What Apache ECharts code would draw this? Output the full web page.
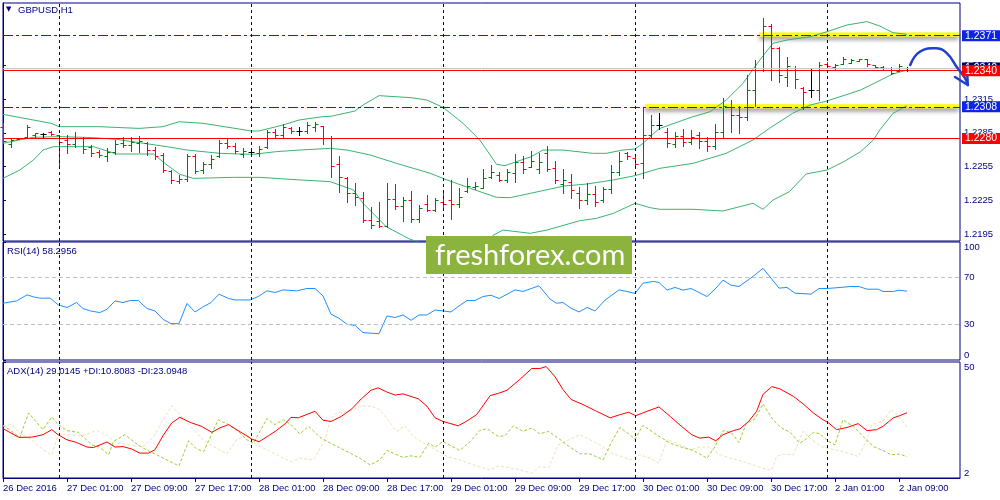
<!DOCTYPE html>
<html>
<head>
<meta charset="utf-8">
<script src="https://cdn.jsdelivr.net/npm/echarts@6/dist/echarts.min.js"></script>
<style>html,body{margin:0;padding:0;background:#fff}#c{width:1000px;height:500px}</style>
</head>
<body>
<div id="c"></div>
<script>
// ---------- DATA ----------
var timeLabels = ['26 Dec 2016','27 Dec 01:00','27 Dec 09:00','27 Dec 17:00','28 Dec 01:00','28 Dec 09:00','28 Dec 17:00','29 Dec 01:00','29 Dec 09:00','29 Dec 17:00','30 Dec 01:00','30 Dec 09:00','30 Dec 17:00','2 Jan 01:00','2 Jan 09:00'];
var timeLabelIdx = [0,8,16,24,32,40,48,56,64,72,80,88,96,104,112];
var daySeparators = [7,31,55,79,103];
var priceTicks = [1.2195,1.2225,1.2255,1.2285,1.2315,1.2345];

var opens = [1.22900,1.22750,1.22795,1.22810,1.22830,1.22835,1.22860,1.22830,1.22790,1.22750,
1.22800,1.22720,1.22680,1.22640,1.22680,1.22760,1.22740,1.22760,1.22760,1.22700,
1.22650,1.22510,1.22420,1.22440,1.22640,1.22520,1.22570,1.22640,1.22760,1.22730,
1.22660,1.22680,1.22670,1.22720,1.22860,1.22830,1.22890,1.22870,1.22870,1.22900,
1.22910,1.22800,1.22570,1.22450,1.22320,1.22270,1.22080,1.22070,1.22020,1.22260,
1.22200,1.22250,1.22090,1.22220,1.22170,1.22240,1.22250,1.22220,1.22330,1.22370,
1.22360,1.22455,1.22480,1.22430,1.22490,1.22590,1.22550,1.22530,1.22670,1.22540,
1.22400,1.22410,1.22320,1.22250,1.22310,1.22250,1.22350,1.22500,1.22670,1.22630,
1.22580,1.22830,1.22920,1.22860,1.22750,1.22820,1.22770,1.22830,1.22780,1.22730,
1.22860,1.23080,1.23010,1.22990,1.23230,1.23420,1.23800,1.23600,1.23340,1.23420,
1.23250,1.23230,1.23230,1.23460,1.23430,1.23460,1.23470,1.23490,1.23500,1.23450,
1.23435,1.23420,1.23400,1.23425];
var highs = [1.22934,1.22801,1.22807,1.22919,1.22851,1.22851,1.22869,1.22830,1.22830,1.22854,
1.22816,1.22742,1.22697,1.22712,1.22786,1.22816,1.22816,1.22821,1.22771,1.22727,
1.22668,1.22520,1.22476,1.22662,1.22662,1.22594,1.22653,1.22786,1.22801,1.22756,
1.22712,1.22712,1.22733,1.22875,1.22881,1.22928,1.22904,1.22898,1.22948,1.22948,
1.22910,1.22821,1.22647,1.22455,1.22402,1.22328,1.22189,1.22239,1.22408,1.22396,
1.22284,1.22334,1.22210,1.22299,1.22269,1.22313,1.22432,1.22358,1.22452,1.22417,
1.22529,1.22564,1.22505,1.22526,1.22662,1.22644,1.22691,1.22668,1.22736,1.22600,
1.22529,1.22482,1.22367,1.22408,1.22378,1.22372,1.22564,1.22683,1.22683,1.22659,
1.23081,1.23008,1.23022,1.22889,1.22860,1.22883,1.22875,1.22860,1.22816,1.22928,
1.23155,1.23140,1.23087,1.23362,1.23495,1.23864,1.23814,1.23613,1.23524,1.23442,
1.23253,1.23415,1.23474,1.23474,1.23457,1.23524,1.23501,1.23504,1.23501,1.23451,
1.23445,1.23436,1.23457,1.23436];
var lows = [1.22756,1.22727,1.22792,1.22801,1.22816,1.22816,1.22830,1.22564,1.22674,1.22727,
1.22668,1.22647,1.22632,1.22603,1.22662,1.22727,1.22691,1.22683,1.22653,1.22615,
1.22499,1.22402,1.22402,1.22426,1.22491,1.22491,1.22535,1.22638,1.22712,1.22668,
1.22632,1.22653,1.22644,1.22718,1.22810,1.22816,1.22851,1.22830,1.22845,1.22869,
1.22748,1.22461,1.22328,1.22234,1.22210,1.22056,1.22003,1.22018,1.22012,1.22172,
1.22068,1.22056,1.22062,1.22160,1.22160,1.22195,1.22083,1.22195,1.22328,1.22349,
1.22358,1.22452,1.22423,1.22417,1.22417,1.22496,1.22550,1.22496,1.22514,1.22402,
1.22313,1.22275,1.22186,1.22219,1.22204,1.22239,1.22319,1.22476,1.22618,1.22550,
1.22446,1.22807,1.22881,1.22727,1.22727,1.22736,1.22748,1.22712,1.22691,1.22709,
1.22810,1.22860,1.22845,1.22963,1.23087,1.23397,1.23318,1.23303,1.23265,1.23250,
1.23058,1.23170,1.23140,1.23421,1.23415,1.23457,1.23465,1.23486,1.23445,1.23421,
1.23412,1.23371,1.23400,1.23400];
var closes = [1.22780,1.22790,1.22805,1.22900,1.22845,1.22835,1.22840,1.22770,1.22750,1.22800,
1.22710,1.22670,1.22650,1.22680,1.22750,1.22740,1.22770,1.22780,1.22700,1.22640,
1.22520,1.22430,1.22440,1.22640,1.22510,1.22570,1.22620,1.22760,1.22730,1.22690,
1.22690,1.22680,1.22710,1.22860,1.22830,1.22900,1.22870,1.22870,1.22920,1.22930,
1.22800,1.22560,1.22460,1.22320,1.22280,1.22080,1.22030,1.22020,1.22260,1.22200,
1.22250,1.22090,1.22180,1.22170,1.22250,1.22220,1.22220,1.22280,1.22380,1.22375,
1.22450,1.22500,1.22430,1.22500,1.22590,1.22530,1.22600,1.22590,1.22530,1.22430,
1.22430,1.22340,1.22250,1.22310,1.22240,1.22350,1.22500,1.22600,1.22640,1.22570,
1.22830,1.22920,1.22920,1.22760,1.22820,1.22770,1.22810,1.22780,1.22730,1.22860,
1.23090,1.23010,1.22990,1.23230,1.23410,1.23800,1.23600,1.23360,1.23440,1.23330,
1.23210,1.23230,1.23450,1.23440,1.23450,1.23500,1.23495,1.23500,1.23460,1.23430,
1.23420,1.23380,1.23440,1.23425];

var bbUpper = [[0,1.23013],[2,1.22987],[6,1.22934],[7,1.22904],[12,1.22904],[17,1.22889],[20,1.22904],[22,1.22948],[25,1.22934],[29,1.22889],[31,1.22866],[32,1.22866],[35,1.22919],[37,1.22963],[40,1.22993],[41,1.22996],[44,1.23043],[45,1.23096],[47,1.23179],[51,1.23161],[53,1.23140],[55,1.23075],[57.5,1.22934],[59.6,1.22786],[61.7,1.22570],[62.75,1.22559],[64.2,1.22594],[66,1.22638],[67.5,1.22697],[70,1.22697],[73.7,1.22668],[75.4,1.22668],[77.5,1.22697],[79,1.22706],[80,1.22756],[82,1.22886],[86,1.22987],[88.4,1.23037],[90.4,1.23140],[92.5,1.23288],[94.6,1.23495],[96.25,1.23643],[98,1.23672],[101,1.23702],[103,1.23746],[105.5,1.23805],[108,1.23835],[109.6,1.23796],[111.25,1.23737],[113,1.23722]];
var bbMiddle = [[0,1.22756],[2,1.22786],[3.8,1.22810],[7,1.22816],[11.3,1.22807],[14.2,1.22792],[17.1,1.22762],[20.5,1.22727],[23,1.22697],[27.1,1.22668],[29.6,1.22662],[31.3,1.22659],[34.2,1.22683],[37.1,1.22697],[40.9,1.22712],[43,1.22697],[45.9,1.22653],[49.2,1.22579],[53.4,1.22491],[55.5,1.22432],[58.4,1.22358],[61.7,1.22278],[63.4,1.22275],[65.9,1.22313],[70.1,1.22378],[73,1.22396],[76.3,1.22432],[79,1.22470],[82.1,1.22535],[86.25,1.22579],[90.4,1.22668],[93.75,1.22786],[95.8,1.22889],[98.7,1.23022],[100.9,1.23096],[103,1.23132],[107.2,1.23229],[111.25,1.23371],[113,1.23406]];
var bbLower = [[0,1.22446],[2.1,1.22520],[3.8,1.22609],[5,1.22697],[6.3,1.22727],[11.3,1.22727],[14.2,1.22662],[18.8,1.22662],[20.5,1.22564],[22.1,1.22482],[23.8,1.22446],[28.8,1.22455],[32.1,1.22455],[37.1,1.22432],[40.9,1.22417],[43.8,1.22343],[45,1.22225],[46.25,1.22136],[47.9,1.22018],[50.8,1.21909],[54,1.21830],[57,1.21810],[60,1.21850],[61.25,1.21941],[62.5,1.21988],[65.9,1.21959],[68,1.21988],[72.1,1.22071],[74.2,1.22092],[76.3,1.22136],[79,1.22225],[80.9,1.22186],[82.1,1.22172],[86.25,1.22172],[90,1.22157],[93.75,1.22225],[95,1.22172],[96.25,1.22254],[98.3,1.22328],[100.4,1.22485],[103,1.22520],[105.1,1.22594],[107.2,1.22683],[108.8,1.22786],[109.6,1.22875],[111.25,1.23022],[113,1.23090]];

var rsiValues = [[0,48.1],[1.7,50.1],[3,55.2],[3.8,53.5],[4.6,52.4],[5.9,52.4],[6.9,46.7],[8,44.5],[9.2,48.7],[10,43.6],[10.9,41.6],[12.1,40.2],[13,43],[14,50.1],[15,48.7],[15.9,50.4],[16.9,50.4],[18,43.6],[19,41.6],[20,34.5],[21,30.8],[22,30.8],[23,47.9],[24,40.7],[25,45],[26,48.7],[27,55.8],[28.2,52.1],[29,50.9],[30.9,50.9],[31.9,53.8],[33,58.6],[34,57.2],[35,59.4],[36.7,58.6],[38,60.6],[39,60.6],[40,54.3],[41,38.8],[42,35.4],[43,30.2],[44,29.4],[45,23.2],[47,22.3],[48,37.3],[49,36],[50,38.2],[51,33.6],[52,38.2],[53,38.2],[54,42.4],[55,41.6],[56,40.7],[57,45.8],[58,50.4],[59,50.4],[60,53.8],[61,54.9],[62,52.1],[64,59.4],[65,58.1],[67,62.9],[68.4,51.5],[69.2,48.1],[70,48.7],[71,43.9],[72,40.7],[73,44.5],[74,41.6],[75.25,50.7],[77,59.4],[78,58.1],[79,56.4],[80,65.1],[81.3,66.6],[82,65.7],[83,59.2],[84,61.5],[85,59.2],[86,60.6],[87,57.2],[88,53.8],[89,60],[90,67.7],[91,63.4],[92,62.3],[93,67.1],[94,72.2],[95,77.7],[96,69.4],[97,60.9],[98,61.5],[99,56.6],[101,55.8],[102,60.6],[103,60.6],[104,61.1],[106,62.3],[107,62.3],[108,60],[109.4,60],[110,58.1],[111.3,58.1],[112,59.2],[113,58.3]];
var rsiLevels = [70,30];

var adxLine = [[0,22.4],[2,18.8],[3.6,18.9],[5,19.9],[6.1,22],[6.9,19.9],[8,17.8],[9.2,16.7],[10.5,14.8],[11.3,14.6],[13,16.9],[14,14.8],[15,15],[16.1,14],[17.1,12.3],[18.2,12.3],[19,13.7],[20,19.5],[21.1,24.8],[22.1,27.1],[23.4,25],[24.8,23.4],[26.1,20.9],[27.1,22.7],[28.2,24.1],[29.2,22],[30.25,19.9],[31.1,18.1],[32,17],[33.2,19.5],[34.2,21.7],[35.25,24.4],[36,27.1],[36.9,26.9],[39,29.6],[40,25.9],[41,25.4],[42.3,27.5],[43.6,30.6],[44.8,34.8],[46,38.3],[46.9,39.3],[47.9,37.7],[49,36.3],[50,36.8],[51.9,34.8],[53,31.7],[54,26.9],[55,25.4],[56.9,23.6],[57.9,25.4],[59.2,28.2],[60.9,36.1],[61.9,37],[63,38.3],[64.6,42.8],[66.1,47.3],[67.1,47.3],[67.9,48.1],[69,43.9],[70,38.6],[71,34.5],[72.5,32.4],[74.2,29.6],[75.9,26.9],[77.1,28.2],[78.2,29.2],[79.1,27.8],[80.5,29.6],[82,31.4],[83.4,27.5],[84.8,23.4],[86.1,19.9],[87.1,18.5],[88.2,18.9],[89.1,17.4],[90,19.9],[91.3,21.6],[92.1,22.3],[93.2,25.4],[94.2,29.6],[95,36.6],[96.1,39.8],[97.1,38.9],[98.8,35.8],[100,32.7],[101.3,28.9],[102.5,26.1],[103.2,24.8],[104.2,22],[105.5,22.9],[106.9,24.5],[108,21.6],[109.2,22],[110,23.4],[111.3,26.9],[112.1,27.8],[113,29.0]];
var plusDI = [[0,23.8],[1.1,21.3],[2.1,18.8],[3.2,28.9],[5,22],[6.1,27.3],[6.9,24.1],[8,21.6],[9.4,20.9],[11.1,15.7],[12.1,14.8],[13.2,11.6],[13.8,17.1],[15.25,19.9],[16.3,17.1],[17.5,14.4],[19.2,11.6],[20.7,9.1],[22,7],[23.2,17.4],[24.2,14],[25.1,13],[26.9,26.1],[28.2,24.1],[29.4,21.3],[30.5,17.8],[31.3,16.4],[33,26.6],[34,24.1],[35,26.1],[36,24.1],[37.1,20.2],[38.2,23.4],[39.6,18.9],[40.9,16.4],[43,13],[44.6,10.2],[45.9,7.4],[47.1,9.5],[48,13.4],[49,12],[50,10.5],[51,11.2],[52.1,10.5],[53.2,16.4],[54,14.8],[55,17.1],[56,15.3],[57.1,13.4],[58.4,17.1],[59.6,21.7],[60.5,22.4],[61.9,19.2],[62.75,19.5],[63.8,23.6],[65,21.3],[66.1,22.7],[67.1,20.3],[68.2,21.3],[69.4,18.5],[70.5,15.7],[72.1,12],[73.4,12],[75,9.5],[76.1,17.1],[77.1,22.9],[78.2,20.3],[79,18.1],[80,23.8],[81.7,19.9],[83.4,16.4],[84.8,14.8],[86.3,13.4],[88,10.2],[89,15],[90,21.6],[91,20.9],[92,16.7],[92.9,24.5],[94,26.4],[95,32.7],[96.25,26.1],[97.3,22.7],[98.4,20.9],[99.6,16.4],[100.25,17.8],[101.3,20.9],[102.1,20.3],[103.2,17.1],[104,15.7],[105,26.1],[106.3,23.4],[107.5,19.2],[108.8,15],[110,13.4],[111,11.6],[112.1,11.9],[113,10.8]];
var minusDI = [[0,23.4],[1.1,24.1],[2.1,20.6],[3.6,17.8],[5,13.7],[6.1,11.6],[6.9,19.9],[8.4,19.9],[10,19.5],[11.7,21.7],[13,19.6],[14.2,16.4],[15.9,15.7],[17.5,15],[18.8,18.9],[20,26.1],[21.1,32],[22.1,28.2],[23.6,22.7],[25,17.8],[26.3,15],[28,12],[29.2,17.8],[30.5,19.9],[31.7,15.7],[33.4,13],[35,10.2],[36,8.8],[37.1,10.2],[38.8,9.5],[40.25,17.8],[40.9,26.1],[41.7,28.9],[43.4,29.6],[44.6,31.7],[46,31.7],[47.1,30.3],[48.2,25.7],[49.2,21.3],[50.25,23.6],[51.3,19.2],[52.3,17.1],[53.4,15],[54.4,13],[55.5,10.9],[57.1,9.5],[58.8,7.4],[60.9,5.3],[61.9,7],[64.2,5.7],[66.1,4],[67.1,6.7],[68.2,6.3],[69.4,15.7],[70.7,17.8],[72.1,19.9],[73.4,17.8],[74.8,15.3],[76.1,12.3],[77.3,10.9],[78.4,9.5],[79.6,11.6],[80.9,10.2],[82,8.1],[83,17.8],[84.2,16.4],[85.9,13.7],[87.1,14.8],[88.2,14.8],[89.4,12],[90.9,10.2],[92.1,9.2],[93.8,7.4],[95,6],[96.1,5.3],[96.7,10.9],[97.5,11.9],[98.8,11.6],[100,21.3],[101.1,17.8],[102.3,15],[103.5,14],[105,13],[106.9,10.9],[108,17.8],[108.6,24.1],[110,25.4],[111,30.3],[112.1,26.9],[113,23.1]];

// annotation levels and zones
var levelsBlue = [1.2371, 1.2308];
var levelsRed = [1.2340, 1.2280];
var bidPrice = 1.23424;
var zones = [[94.5, 1.23738, 1.23703], [80.25, 1.23102, 1.23067]];
var arrowX = [113.4, 114.6, 116.7, 118.0, 119.2, 120.25, 120.6];
var arrowY = [1.23450, 1.23568, 1.23598, 1.23554, 1.23435, 1.23335, 1.23273];
var arrowHeadX = [119.0, 120.6, 120.5];
var arrowHeadY = [1.23344, 1.23273, 1.23406];

// ---------- CHART ----------
var NAVY = '#000080';
var BLUE = '#0B24E6';
var FONT = 'Liberation Sans';
var XMAX = 119.625;
var chart = echarts.init(document.getElementById('c'), null, {renderer: 'canvas'});

var ohlc = opens.map(function (o, i) { return [i, o, highs[i], lows[i], closes[i]]; });

function xAxisFor(gi, showLabels) {
  return {
    type: 'value', gridIndex: gi, min: 0, max: XMAX,
    axisLine: {show: showLabels, lineStyle: {color: NAVY, width: 1}},
    axisTick: {show: showLabels, length: 4, inside: false, customValues: timeLabelIdx, lineStyle: {color: NAVY}},
    axisLabel: {
      show: showLabels, customValues: timeLabelIdx, align: 'left', margin: 5,
      color: NAVY, fontSize: 9.5, fontFamily: FONT,
      formatter: function (v) { var k = timeLabelIdx.indexOf(Math.round(v)); return k >= 0 ? timeLabels[k] : ''; }
    },
    splitLine: {show: false}
  };
}
function gridBox(top, height) {
  return {left: 3, right: 40, top: top, height: height, show: true, borderColor: NAVY, borderWidth: 1, backgroundColor: 'transparent'};
}
function sepLines() {
  return daySeparators.map(function (d) { return {xAxis: d}; });
}
var sepStyle = {color: NAVY, type: [3, 3], width: 1};

function levelLabel(text, bg) {
  return {show: true, position: 'end', distance: 2, formatter: text, color: '#fff', backgroundColor: bg,
    padding: [1, 4, 0, 3], fontSize: 10.5, lineHeight: 10, fontFamily: FONT};
}

var option = {
  animation: false,
  backgroundColor: '#fff',
  title: [
    {text: '\u25BC', left: 6, top: 6, padding: 0, textStyle: {color: NAVY, fontSize: 7, fontWeight: 'normal', fontFamily: 'DejaVu Sans'}},
    {text: 'GBPUSD,H1', left: 18, top: 5, padding: 0, textStyle: {color: NAVY, fontSize: 9.5, fontWeight: 'normal', fontFamily: FONT}},
    {text: 'RSI(14) 58.2956', left: 7, top: 246, padding: 0, textStyle: {color: NAVY, fontSize: 9.5, fontWeight: 'normal', fontFamily: FONT}},
    {text: 'ADX(14) 29.0145 +DI:10.8083 -DI:23.0948', left: 7, top: 366, padding: 0, textStyle: {color: NAVY, fontSize: 9.5, fontWeight: 'normal', fontFamily: FONT}}
  ],
  grid: [gridBox(3, 238), gridBox(242, 118), gridBox(362, 116)],
  xAxis: [xAxisFor(0, false), xAxisFor(1, false), xAxisFor(2, true)],
  yAxis: [
    {type: 'value', gridIndex: 0, position: 'right', min: 1.21891, max: 1.24,
      axisLine: {show: true, lineStyle: {color: NAVY}},
      axisTick: {show: true, length: 3, customValues: priceTicks, lineStyle: {color: NAVY}},
      axisLabel: {customValues: priceTicks, margin: 4, color: NAVY, fontSize: 9.5, fontFamily: FONT, formatter: function (v) { return v.toFixed(4); }},
      splitLine: {show: false}},
    {type: 'value', gridIndex: 1, position: 'right', min: 0, max: 100,
      axisLine: {show: true, lineStyle: {color: NAVY}},
      axisTick: {show: true, length: 3, customValues: [0, 30, 70, 100], lineStyle: {color: NAVY}},
      axisLabel: {customValues: [0, 30, 70, 100], margin: 4, color: NAVY, fontSize: 9.5, fontFamily: FONT,
        verticalAlignMaxLabel: 'top', verticalAlignMinLabel: 'bottom'},
      splitLine: {show: false}},
    {type: 'value', gridIndex: 2, position: 'right', min: 2, max: 50,
      axisLine: {show: true, lineStyle: {color: NAVY}},
      axisTick: {show: true, length: 3, customValues: [2, 50], lineStyle: {color: NAVY}},
      axisLabel: {customValues: [2, 50], margin: 4, color: NAVY, fontSize: 9.5, fontFamily: FONT,
        verticalAlignMaxLabel: 'top', verticalAlignMinLabel: 'bottom'},
      splitLine: {show: false}}
  ],
  series: [
    {
      name: 'bbLower', type: 'line', xAxisIndex: 0, yAxisIndex: 0, data: bbLower, symbol: 'none', z: 1,
      lineStyle: {color: '#3CB371', width: 1},
      markArea: {silent: true, itemStyle: {color: '#FFFF00', shadowColor: 'rgba(0,0,0,0.45)', shadowBlur: 4, shadowOffsetY: 3},
        data: zones.map(function (z) { return [{xAxis: z[0], yAxis: z[1]}, {xAxis: 119.45, yAxis: z[2]}]; })}
    },
    {
      name: 'bbUpper', type: 'line', xAxisIndex: 0, yAxisIndex: 0, data: bbUpper, symbol: 'none', z: 1,
      lineStyle: {color: '#3CB371', width: 1}
    },
    {
      name: 'bbMiddle', type: 'line', xAxisIndex: 0, yAxisIndex: 0, data: bbMiddle, symbol: 'none', z: 2,
      lineStyle: {color: '#3CB371', width: 1},
      markLine: {
        silent: true, symbol: ['none', 'none'], animation: false, precision: 6,
        data: [
          {yAxis: bidPrice, lineStyle: {color: '#C8C8C8', type: 'solid', width: 1}, label: levelLabel('1.2342', '#000060')},
          {yAxis: levelsRed[0], lineStyle: {color: '#FF0000', type: 'solid', width: 1}, label: levelLabel('1.2340', '#FF0000')},
          {yAxis: levelsRed[1], lineStyle: {color: '#FF0000', type: 'solid', width: 1}, label: levelLabel('1.2280', '#FF0000')},
          {yAxis: levelsBlue[0], lineStyle: {color: BLUE, type: [10, 3, 3, 3], width: 1}, label: levelLabel('1.2371', BLUE)},
          {yAxis: levelsBlue[1], lineStyle: {color: BLUE, type: [10, 3, 3, 3], width: 1}, label: levelLabel('1.2308', BLUE)}
        ].concat(sepLines().map(function (s) { s.lineStyle = sepStyle; s.label = {show: false}; return s; }))
      }
    },
    {
      name: 'bars', type: 'custom', xAxisIndex: 0, yAxisIndex: 0, z: 3,
      data: ohlc, encode: {x: 0, y: [1, 2, 3, 4]},
      renderItem: function (params, api) {
        var x = api.value(0), o = api.value(1), h = api.value(2), l = api.value(3), c = api.value(4);
        var pH = api.coord([x, h]), pL = api.coord([x, l]), pO = api.coord([x, o]), pC = api.coord([x, c]);
        var px = Math.round(pH[0]) + 0.5;
        var col = c > o ? '#008000' : (c < o ? '#FF0000' : '#000000');
        var st = {stroke: col, lineWidth: 1};
        var yo = Math.round(pO[1]) + 0.5, yc = Math.round(pC[1]) + 0.5;
        return {type: 'group', children: [
          {type: 'line', shape: {x1: px, y1: Math.round(pH[1]), x2: px, y2: Math.round(pL[1]) + 1}, style: st},
          {type: 'line', shape: {x1: px - 3, y1: yo, x2: px, y2: yo}, style: st},
          {type: 'line', shape: {x1: px, y1: yc, x2: px + 3, y2: yc}, style: st}
        ]};
      }
    },
    {
      name: 'arrow', type: 'custom', xAxisIndex: 0, yAxisIndex: 0, z: 5, clip: false,
      data: [[arrowX[0], arrowY[0]]],
      renderItem: function (params, api) {
        var pts = arrowX.map(function (x, k) { return api.coord([x, arrowY[k]]); });
        var head = arrowHeadX.map(function (x, k) { return api.coord([x, arrowHeadY[k]]); });
        return {type: 'group', children: [
          {type: 'polyline', shape: {points: pts, smooth: 0.45}, style: {stroke: '#1F3FCC', lineWidth: 2.5, fill: null, lineCap: 'round'}},
          {type: 'polyline', shape: {points: head}, style: {stroke: '#1F3FCC', lineWidth: 2.5, fill: null, lineCap: 'round', lineJoin: 'round'}}
        ]};
      }
    },
    {
      name: 'RSI', type: 'line', xAxisIndex: 1, yAxisIndex: 1, data: rsiValues, symbol: 'none',
      lineStyle: {color: '#1E90FF', width: 1},
      markLine: {silent: true, symbol: ['none', 'none'], label: {show: false}, precision: 4,
        data: rsiLevels.map(function (v) { return {yAxis: v, lineStyle: {color: '#C0C0C0', type: [4, 3], width: 1}}; })
          .concat(sepLines().map(function (s) { s.lineStyle = sepStyle; return s; }))}
    },
    {
      name: 'ADX', type: 'line', xAxisIndex: 2, yAxisIndex: 2, data: adxLine, symbol: 'none', z: 4,
      lineStyle: {color: '#FF0000', width: 1},
      markLine: {silent: true, symbol: ['none', 'none'], label: {show: false}, precision: 4,
        data: sepLines().map(function (s) { s.lineStyle = sepStyle; return s; })}
    },
    {
      name: '+DI', type: 'line', xAxisIndex: 2, yAxisIndex: 2, data: plusDI, symbol: 'none', z: 3,
      lineStyle: {color: '#9ACD32', width: 1, type: [3, 2]}
    },
    {
      name: '-DI', type: 'line', xAxisIndex: 2, yAxisIndex: 2, data: minusDI, symbol: 'none', z: 2,
      lineStyle: {color: '#F5DEB3', width: 1, type: [3, 2]}
    }
  ],
  graphic: [
    {type: 'rect', z: 100, shape: {x: 426, y: 236, width: 206, height: 38}, style: {fill: '#8DB33F'}},
    {type: 'text', z: 101, x: 435, y: 256, style: {text: 'freshforex.com', fill: '#FFFFFF', fontSize: 29, fontFamily: 'Lato', verticalAlign: 'middle'}}
  ]
};
chart.setOption(option);
</script>
</body>
</html>
